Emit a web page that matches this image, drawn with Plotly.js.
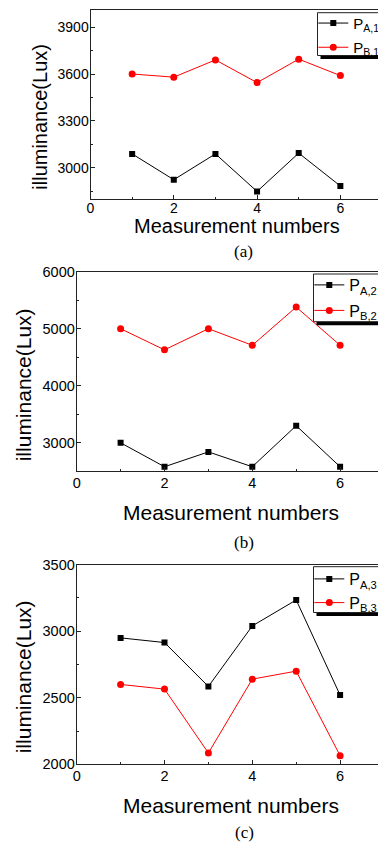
<!DOCTYPE html>
<html>
<head>
<meta charset="utf-8">
<script src="https://cdn.plot.ly/plotly-3.0.1.min.js"></script>
<style>
html,body{margin:0;padding:0;overflow:hidden;background:#fff;width:378px;height:844px;}
#chart{width:400px;height:844px;}
</style>
</head>
<body>
<div id="chart"></div>
<script>
// ---- data ----
const measurement = [1, 2, 3, 4, 5, 6];
const pA1 = [3090, 2925, 3090, 2850, 3095, 2885];
const pB1 = [3600, 3580, 3690, 3545, 3695, 3590];
const pA2 = [3000, 2580, 2840, 2580, 3300, 2580];
const pB2 = [5000, 4630, 5000, 4710, 5380, 4710];
const pA3 = [2950, 2915, 2585, 3040, 3235, 2520];
const pB3 = [2600, 2565, 2085, 2640, 2700, 2065];
const seriesNames = ['P<sub>A,1</sub>', 'P<sub>B,1</sub>', 'P<sub>A,2</sub>', 'P<sub>B,2</sub>', 'P<sub>A,3</sub>', 'P<sub>B,3</sub>'];
const xTitle = 'Measurement numbers';
const yTitle = 'illuminance(Lux)';
const captions = ['(a)', '(b)', '(c)'];

// ---- helpers ----
const W = 400, H = 844;
const fx = p => p / W;
const fy = p => 1 - p / H;
const FONT = 'Liberation Sans, Arial, sans-serif';
const SERIF = 'Liberation Serif, Times New Roman, serif';

function tr(y, i, color, symbol, xa, ya, leg) {
  return {
    x: measurement, y: y, name: seriesNames[i], type: 'scatter', mode: 'lines+markers',
    xaxis: xa, yaxis: ya, legend: leg,
    line: {color: color, width: 1},
    marker: {color: color, symbol: symbol, size: symbol === 'square' ? 6 : 7}
  };
}

const data = [
  tr(pA1, 0, '#000000', 'square', 'x', 'y', 'legend'),
  tr(pB1, 1, '#ff0000', 'circle', 'x', 'y', 'legend2'),
  tr(pA2, 2, '#000000', 'square', 'x2', 'y2', 'legend3'),
  tr(pB2, 3, '#ff0000', 'circle', 'x2', 'y2', 'legend4'),
  tr(pA3, 4, '#000000', 'square', 'x3', 'y3', 'legend5'),
  tr(pB3, 5, '#ff0000', 'circle', 'x3', 'y3', 'legend6')
];

function xax(d0, d1, anchor, fs, standoff) {
  return {
    domain: [fx(d0), fx(d1)], range: [0, 7], anchor: anchor,
    tick0: 0, dtick: 2, ticks: 'inside', ticklen: 4, tickwidth: 1, tickcolor: '#222',
    minor: {ticks: 'inside', ticklen: 2, dtick: 1, tickcolor: '#222'},
    showline: true, mirror: true, linecolor: '#222', linewidth: 1,
    showgrid: false, zeroline: false, fixedrange: true, ticklabelstandoff: standoff,
    tickfont: {family: FONT, size: fs, color: '#000'}
  };
}
function yax(top, bot, range, dtick, anchor, fs) {
  return {
    domain: [fy(bot), fy(top)], range: range, anchor: anchor,
    tick0: 0, dtick: dtick, ticks: 'inside', ticklen: 4, tickwidth: 1, tickcolor: '#222',
    minor: {ticks: 'inside', ticklen: 2, dtick: dtick / 2, tickcolor: '#222'},
    showline: true, mirror: true, linecolor: '#222', linewidth: 1,
    showgrid: false, zeroline: false, fixedrange: true, ticklabelstandoff: -2,
    tickfont: {family: FONT, size: fs, color: '#000'}
  };
}
// one-entry legend, centred on a row (marker at x + 20)
function leg(markerX, rowY, fs) {
  return {
    x: fx(markerX - 20), y: fy(rowY), xanchor: 'left', yanchor: 'middle',
    bgcolor: 'rgba(0,0,0,0)', borderwidth: 0,
    font: {family: FONT, size: fs, color: '#000'},
    itemclick: false, itemdoubleclick: false
  };
}
function ann(text, xp, yp, size, angle, family) {
  return {
    text: text, xref: 'paper', yref: 'paper', x: fx(xp), y: fy(yp),
    xanchor: 'center', yanchor: 'middle', showarrow: false, textangle: angle || 0,
    font: {family: family || FONT, size: size, color: '#000'}
  };
}
// legend frame with drop shadow
function frame(left, top, bot) {
  return [
    {type: 'rect', xref: 'paper', yref: 'paper', x0: fx(left + 3), x1: 1.05, y0: fy(bot + 3.5), y1: fy(bot - 2),
      fillcolor: '#000', line: {width: 0}, layer: 'above'},
    {type: 'rect', xref: 'paper', yref: 'paper', x0: fx(left), x1: 1.05, y0: fy(bot), y1: fy(top),
      fillcolor: '#fff', line: {color: '#222', width: 1}, layer: 'above'}
  ];
}

const layout = {
  width: W, height: H,
  margin: {l: 0, r: 0, t: 0, b: 0},
  paper_bgcolor: '#fff', plot_bgcolor: '#fff',
  font: {family: FONT, color: '#000'},
  showlegend: true,
  xaxis: xax(90.5, 382, 'y', 14, -4),
  yaxis: yax(9.8, 199.3, [2800, 4010], 300, 'x', 14),
  xaxis2: xax(76.7, 384, 'y2', 14.5, -2),
  yaxis2: yax(271.7, 471.3, [2500, 6000], 1000, 'x2', 14.5),
  xaxis3: xax(76.7, 384, 'y3', 14.5, -2),
  yaxis3: yax(564.7, 764.3, [2000, 3500], 500, 'x3', 14.5),
  legend: leg(333.3, 23.3, 15),
  legend2: leg(333.3, 47.5, 15),
  legend3: leg(329.3, 285, 16),
  legend4: leg(329.3, 310.5, 16),
  legend5: leg(329.3, 579, 16),
  legend6: leg(329.3, 602.7, 16),
  shapes: [].concat(
    frame(317.5, 12.7, 55.5),
    frame(313.5, 274, 321.7),
    frame(313.5, 566.7, 612.5)
  ),
  annotations: [
    ann(yTitle, 40, 116.7, 20, -90),
    ann(xTitle, 236.5, 225.5, 20),
    ann(captions[0], 243, 251, 17, 0, SERIF),
    ann(yTitle, 23.3, 385, 21, -90),
    ann(xTitle, 230.8, 512.7, 21),
    ann(captions[1], 244, 542.5, 17, 0, SERIF),
    ann(yTitle, 23.3, 677, 21, -90),
    ann(xTitle, 230.8, 805.3, 21),
    ann(captions[2], 244, 832.5, 17, 0, SERIF)
  ]
};

Plotly.newPlot('chart', data, layout, {staticPlot: true, displayModeBar: false});
</script>
</body>
</html>
